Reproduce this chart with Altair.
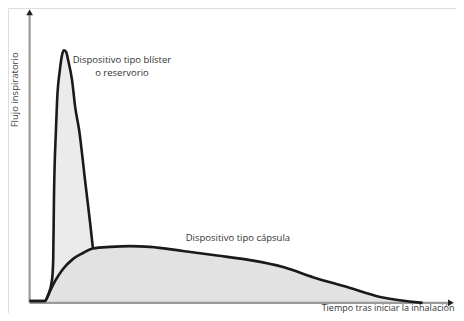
import altair as alt
import pandas as pd

# Blister / reservoir device curve (time, flow), arbitrary units
blister_t = [0, 3.9, 4.7, 5.7, 6.0, 6.2, 6.7, 7.0, 7.7, 8.2, 8.7, 9.3, 9.8, 10.8, 11.6, 12.6, 14.1, 15.4, 16.1]
blister_f = [0.7, 0.7, 3.1, 9.0, 16.8, 41.6, 68.0, 79.8, 91.6, 97.1, 99.4, 98.7, 95.5, 87.6, 77.0, 68.0, 48.3, 31.4, 21.6]

# Capsule device curve
capsule_t = [0, 3.9, 4.4, 5.2, 6.5, 8.5, 11.0, 13.6, 16.1, 20.5, 25.5, 30.6, 39.0, 47.7, 56.1, 64.5, 72.1, 80.8, 89.2, 100]
capsule_f = [0.7, 0.7, 1.9, 4.6, 8.6, 13.3, 17.2, 19.6, 21.4, 22.0, 22.3, 22.0, 20.4, 18.6, 16.8, 14.1, 10.1, 6.2, 2.3, 0]

# Labels
label_text = ["Dispositivo tipo blíster", "o reservorio", "Dispositivo tipo cápsula"]
label_t = [23.5, 23.5, 53.0]
label_f = [95.5, 90.4, 25.5]

x_title = "Tiempo tras iniciar la inhalación"
y_title = "Flujo inspiratorio"

blister = pd.DataFrame({"t": blister_t, "f": blister_f})
capsule = pd.DataFrame({"t": capsule_t, "f": capsule_f})
labels = pd.DataFrame({"text": label_text, "t": label_t, "f": label_f})

xs = alt.Scale(domain=[-5.5, 108.5], nice=False, zero=False)
ys = alt.Scale(domain=[-4, 116], nice=False, zero=False)
X = lambda f="t": alt.X(f"{f}:Q", scale=xs, axis=None)
Y = lambda f="f": alt.Y(f"{f}:Q", scale=ys, axis=None)

blister_area = alt.Chart(blister).mark_area(color="#ebebeb", interpolate="monotone").encode(
    x=X(), y=Y(), y2=alt.datum(0))
capsule_area = alt.Chart(capsule).mark_area(color="#e2e2e2", interpolate="monotone").encode(
    x=X(), y=Y(), y2=alt.datum(0))
blister_line = alt.Chart(blister).mark_line(color="#1a1a1a", strokeWidth=2.6, interpolate="monotone").encode(
    x=X(), y=Y())
capsule_line = alt.Chart(capsule).mark_line(color="#1a1a1a", strokeWidth=2.6, interpolate="monotone").encode(
    x=X(), y=Y())

axes = pd.DataFrame({"t": [0, 0], "t2": [0, 106.5], "f": [0, 0], "f2": [113.5, 0]})
axis_rules = alt.Chart(axes).mark_rule(color="#9a9a9a", strokeWidth=2.2).encode(
    x=X(), x2="t2:Q", y=Y(), y2="f2:Q")

arrows = pd.DataFrame({"t": [0, 107.2], "f": [114.3, 0], "shape": ["triangle-up", "triangle-right"]})
arrow_marks = alt.Chart(arrows).mark_point(filled=True, color="#222222", opacity=1, size=45).encode(
    x=X(), y=Y(), shape=alt.Shape("shape:N", scale=None))

text_font = "Liberation Sans Narrow, Open Sans"
label_marks = alt.Chart(labels).mark_text(font=text_font, fontSize=9.5, color="#333333",
                                          align="center", baseline="middle").encode(
    x=X(), y=Y(), text="text:N")

titles = pd.DataFrame({"text": [x_title], "t": [91.2], "f": [-3.05]})
x_title_mark = alt.Chart(titles).mark_text(font=text_font, fontSize=9, color="#333333",
                                           align="center", baseline="alphabetic").encode(
    x=X(), y=Y(), text="text:N")
ytitles = pd.DataFrame({"text": [y_title], "t": [-3.7], "f": [83.8]})
y_title_mark = alt.Chart(ytitles).mark_text(font=text_font, fontSize=9.5, color="#444444", angle=270,
                                            align="center", baseline="middle").encode(
    x=X(), y=Y(), text="text:N")

chart = alt.layer(
    blister_area, capsule_area, axis_rules, blister_line, capsule_line, arrow_marks,
    label_marks, x_title_mark, y_title_mark
).properties(
    width=448, height=305, padding=0,
    autosize=alt.AutoSizeParams(type="none"),
).configure_view(stroke=None).configure(background="white")

chart.save("out.html", embed_options={"renderer": "svg", "actions": False})
